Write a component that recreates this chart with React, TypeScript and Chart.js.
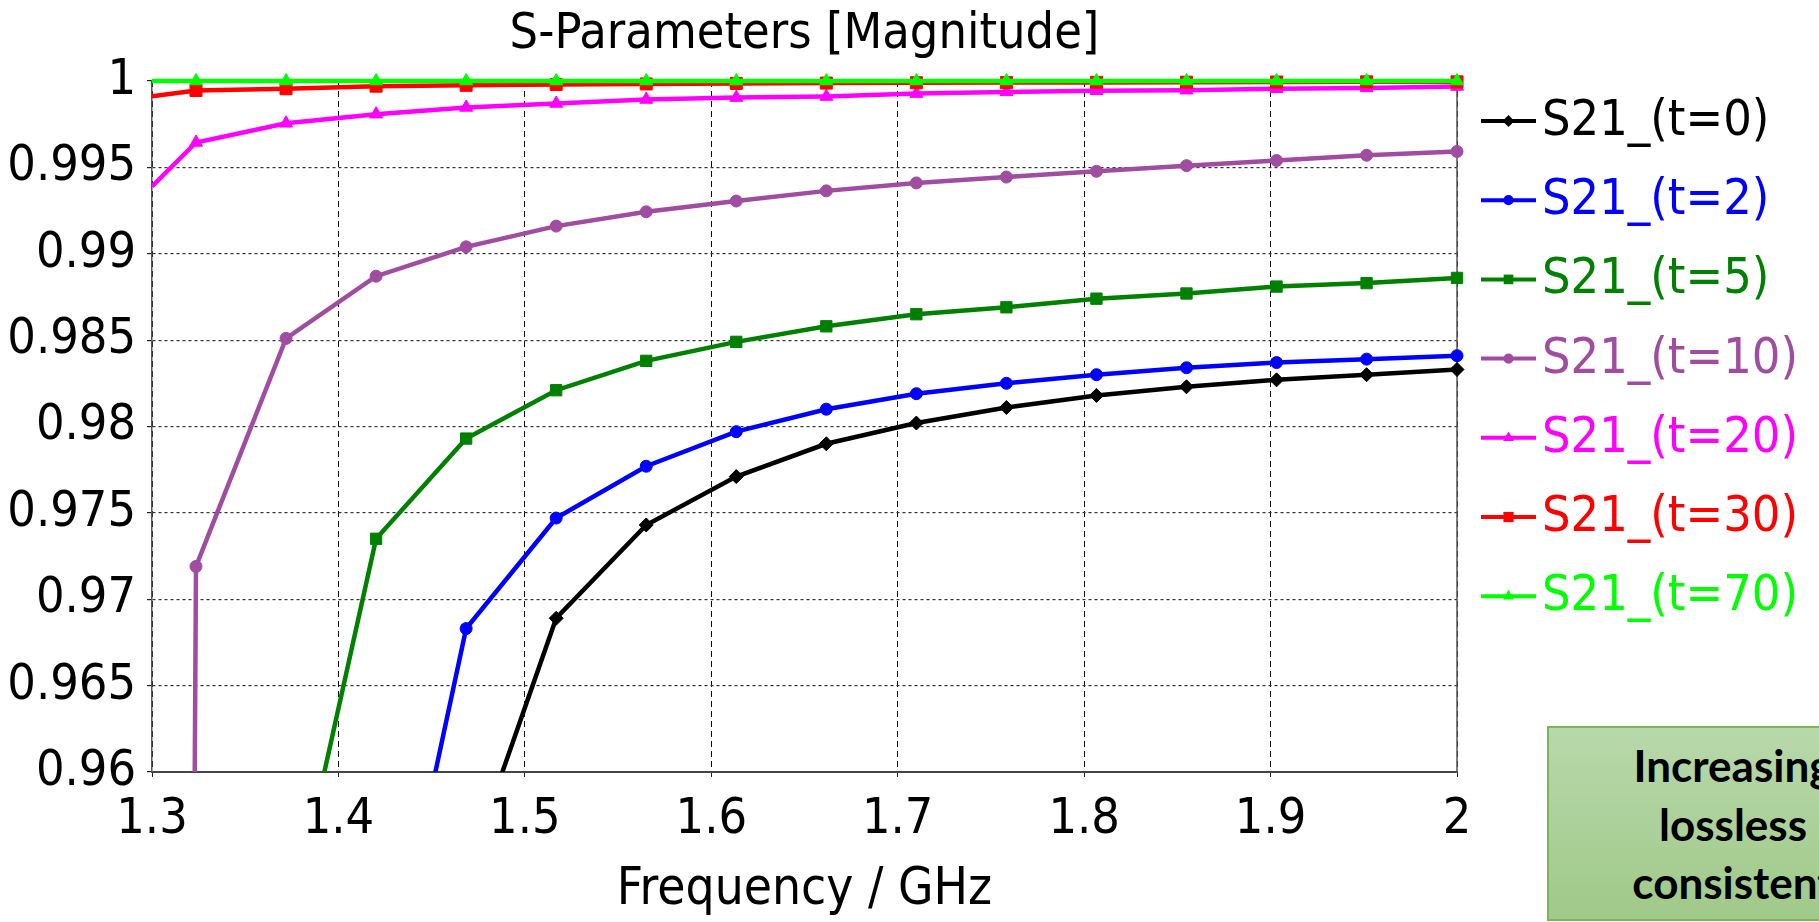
import React, { useEffect, useRef } from "react";
import { Chart, registerables } from "chart.js";

Chart.register(...registerables);

// Sweep frequencies (GHz): 1.3 is the sweep start, the rest carry markers
const freqGHz = [1.3, 1.3236, 1.3719, 1.4202, 1.4685, 1.5168, 1.5651, 1.6134, 1.6617, 1.71, 1.7583, 1.8066, 1.8549, 1.9032, 1.9515, 2.0];

const s21_t0 = [null, null, null, null, 0.954, 0.9689, 0.9743, 0.9771, 0.979, 0.9802, 0.9811, 0.9818, 0.9823, 0.9827, 0.983, 0.9833];
const s21_t2 = [null, null, null, 0.944, 0.9683, 0.9747, 0.9777, 0.9797, 0.981, 0.9819, 0.9825, 0.983, 0.9834, 0.9837, 0.9839, 0.9841];
const s21_t5 = [null, null, 0.95, 0.9735, 0.9793, 0.9821, 0.9838, 0.9849, 0.9858, 0.9865, 0.9869, 0.9874, 0.9877, 0.9881, 0.9883, 0.9886];
const s21_t10 = [0.55, 0.9719, 0.9851, 0.9887, 0.9904, 0.9916, 0.99243, 0.99305, 0.99364, 0.9941, 0.99444, 0.99477, 0.9951, 0.9954, 0.9957, 0.99592];
const s21_t20 = [0.9939, 0.99644, 0.99755, 0.99808, 0.99847, 0.9987, 0.99893, 0.99904, 0.9991, 0.99927, 0.99937, 0.99943, 0.99947, 0.99955, 0.9996, 0.99968];
const s21_t30 = [0.99912, 0.99945, 0.99955, 0.9997, 0.99975, 0.9998, 0.99983, 0.99986, 0.99988, 0.9999, 0.99991, 0.99992, 0.99993, 0.99994, 0.99995, 0.99995];
const s21_t70 = [1, 1, 1, 1, 1, 1, 1, 1, 1, 1, 1, 1, 1, 1, 1, 1];

const seriesNames = ["S21_(t=0)", "S21_(t=2)", "S21_(t=5)", "S21_(t=10)", "S21_(t=20)", "S21_(t=30)", "S21_(t=70)"];
const seriesValues = [s21_t0, s21_t2, s21_t5, s21_t10, s21_t20, s21_t30, s21_t70];
const seriesColors = ["#000000", "#0000ff", "#008000", "#a04ca0", "#ff00ff", "#ff0000", "#00ff00"];
const seriesMarkers = ["rectRot", "circle", "rect", "circle", "triangle", "rect", "triangle"];
const seriesMarkerSizes = [7, 6, 8, 6, 7.5, 8.5, 7.5];

const chartTitle = "S-Parameters [Magnitude]";
const xAxisTitle = "Frequency / GHz";
const noteLines = ["Increasing", "lossless", "consistent"];

const FONT = '"DejaVu Sans Condensed", "DejaVu Sans", sans-serif';

function fmt(v: number) {
  return String(parseFloat(Number(v).toFixed(3)));
}

function drawMarker(ctx: CanvasRenderingContext2D, style: string, x: number, y: number, r: number) {
  ctx.beginPath();
  if (style === "circle") {
    ctx.arc(x, y, r, 0, Math.PI * 2);
  } else if (style === "rect") {
    const s = r * Math.SQRT1_2;
    ctx.rect(x - s, y - s, 2 * s, 2 * s);
  } else if (style === "rectRot") {
    ctx.moveTo(x, y - r);
    ctx.lineTo(x + r, y);
    ctx.lineTo(x, y + r);
    ctx.lineTo(x - r, y);
    ctx.closePath();
  } else if (style === "triangle") {
    ctx.moveTo(x, y - r);
    ctx.lineTo(x + r * 0.866, y + r * 0.5);
    ctx.lineTo(x - r * 0.866, y + r * 0.5);
    ctx.closePath();
  }
  ctx.fill();
}

const frameAndLegend = {
  id: "frameAndLegend",
  beforeDatasetsDraw(chart: any) {
    const { ctx, chartArea } = chart;
    ctx.save();
    ctx.strokeStyle = "#555";
    ctx.lineWidth = 1.5;
    ctx.beginPath();
    ctx.moveTo(chartArea.right, chartArea.top);
    ctx.lineTo(chartArea.right, chartArea.bottom);
    ctx.stroke();
    ctx.restore();
  },
  afterDraw(chart: any) {
    const { ctx, chartArea } = chart;
    ctx.save();
    const lx0 = chartArea.right + 24;
    const lx1 = chartArea.right + 79;
    const tx = chartArea.right + 85;
    const y0 = chartArea.top + 40;
    const step = 79.2;
    chart.data.datasets.forEach((ds: any, i: number) => {
      const y = y0 + i * step;
      const c = seriesColors[i];
      ctx.strokeStyle = c;
      ctx.fillStyle = c;
      ctx.lineWidth = 4;
      ctx.beginPath();
      ctx.moveTo(lx0, y);
      ctx.lineTo(lx1, y);
      ctx.stroke();
      drawMarker(ctx, seriesMarkers[i], (lx0 + lx1) / 2, y, seriesMarkerSizes[i] * 0.85);
      ctx.font = `50px ${FONT}`;
      ctx.textAlign = "left";
      ctx.textBaseline = "middle";
      ctx.fillText(ds.label, tx, y + 1);
    });
    ctx.restore();
  },
};

export default function App() {
  const canvasRef = useRef<HTMLCanvasElement | null>(null);

  useEffect(() => {
    if (!canvasRef.current) return;
    const datasets = seriesNames.map((name, i) => ({
      label: name,
      data: freqGHz.map((f, k) => ({ x: f, y: seriesValues[i][k] })),
      borderColor: seriesColors[i],
      backgroundColor: seriesColors[i],
      pointBackgroundColor: seriesColors[i],
      pointBorderColor: seriesColors[i],
      pointBorderWidth: 1,
      pointStyle: seriesMarkers[i],
      pointRadius: (c: any) => (c.dataIndex === 0 ? 0 : seriesMarkerSizes[i]),
      pointHoverRadius: (c: any) => (c.dataIndex === 0 ? 0 : seriesMarkerSizes[i]),
      borderWidth: 4.5,
      tension: 0,
      fill: false,
      order: seriesNames.length - 1 - i,
      clip: { left: 0, top: 14, right: 14, bottom: 0 },
    }));

    const chart = new Chart(canvasRef.current, {
      type: "line",
      data: { datasets },
      plugins: [frameAndLegend],
      options: {
        animation: false,
        responsive: false,
        devicePixelRatio: 1,
        events: [],
        layout: { padding: { left: 0, top: 0, right: 362, bottom: 0 } },
        plugins: {
          legend: { display: false },
          tooltip: { enabled: false },
          title: {
            display: true,
            text: chartTitle,
            fullSize: false,
            color: "#000",
            font: { family: FONT, size: 50, weight: "normal", lineHeight: 1.2 },
            padding: { top: 5, bottom: 16 },
          },
        },
        scales: {
          x: {
            type: "linear",
            min: 1.3,
            max: 2,
            afterFit: (s: any) => {
              s.height = 150;
            },
            ticks: {
              stepSize: 0.1,
              color: "#000",
              font: { family: FONT, size: 50, lineHeight: 1.2 },
              padding: 13,
              maxRotation: 0,
              autoSkip: false,
              callback: (v: any) => fmt(v),
            },
            grid: {
              color: "#111",
              lineWidth: 1,
              drawTicks: true,
              tickLength: 5,
              tickColor: "#222",
              tickBorderDash: [],
            },
            border: { display: true, color: "#444", width: 2, dash: [6, 4] },
            title: {
              display: true,
              text: xAxisTitle,
              color: "#000",
              font: { family: FONT, size: 51, lineHeight: 1.2 },
              padding: { top: 0, bottom: 1 },
            },
          },
          y: {
            type: "linear",
            min: 0.96,
            max: 1,
            afterFit: (s: any) => {
              s.width = 152;
            },
            ticks: {
              stepSize: 0.005,
              color: "#000",
              font: { family: FONT, size: 50, lineHeight: 1.2 },
              padding: 11,
              autoSkip: false,
              callback: (v: any) => fmt(v),
            },
            grid: {
              color: "#333",
              lineWidth: 1.2,
              drawTicks: true,
              tickLength: 5,
              tickColor: "#222",
              tickBorderDash: [],
            },
            border: { display: true, color: "#555", width: 1.5, dash: [3, 3] },
          },
        },
      } as any,
    });
    return () => chart.destroy();
  }, []);

  return (
    <div
      style={{
        position: "fixed",
        left: 0,
        top: 0,
        width: 1819,
        height: 922,
        overflow: "hidden",
        background: "#fff",
      }}
    >
      <canvas ref={canvasRef} width={1819} height={922} style={{ display: "block" }} />
      <div
        style={{
          position: "absolute",
          left: 1547,
          top: 726,
          width: 372,
          height: 195,
          boxSizing: "border-box",
          border: "2px solid #7ab55c",
          background: "linear-gradient(#b8d8aa, #a0c98a)",
          fontFamily: "Lato, 'Open Sans', sans-serif",
          fontWeight: 700,
          fontSize: 44,
          lineHeight: "58.5px",
          textAlign: "center",
          paddingTop: 8,
          color: "#000",
        }}
      >
        {noteLines.map((t, i) => (
          <div key={i}>{t}</div>
        ))}
      </div>
    </div>
  );
}
